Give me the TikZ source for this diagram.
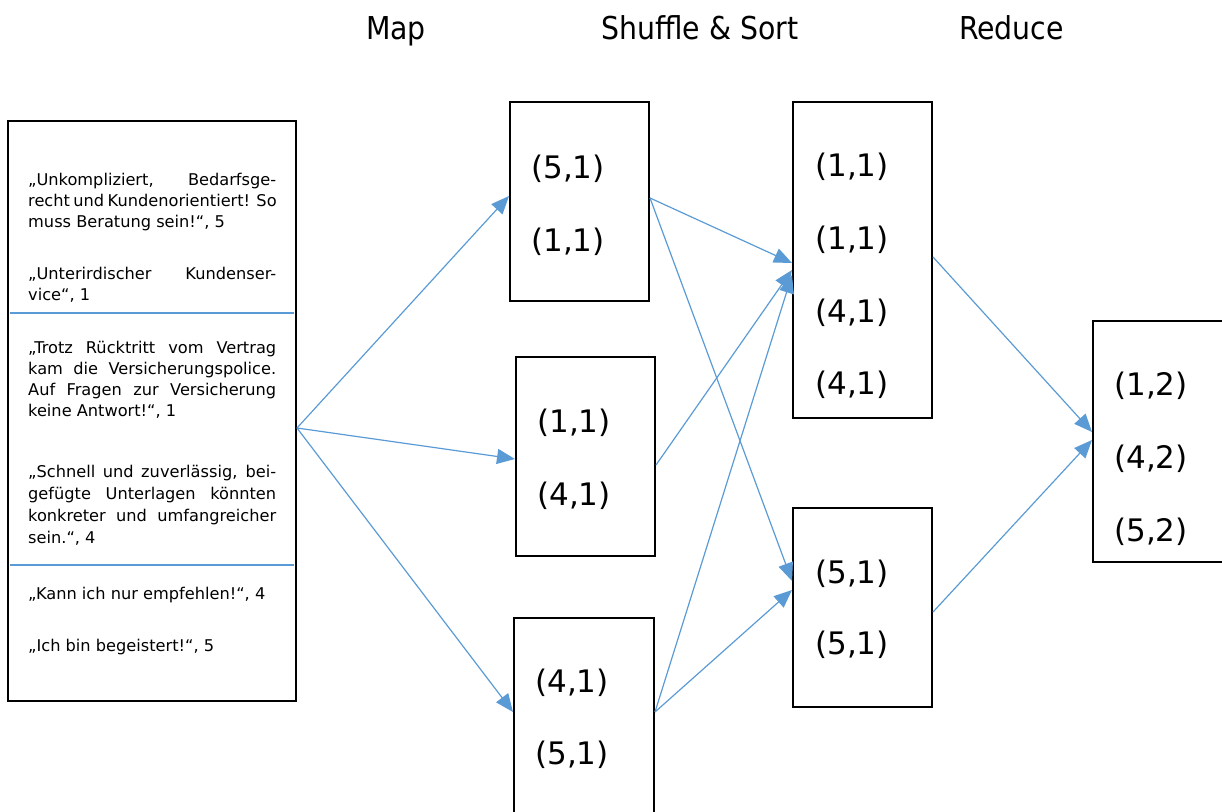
\documentclass[tikz,border=0pt]{standalone}
\usepackage{fontspec}
\setmainfont{DejaVu Sans}
\newfontfamily\narrowfont{DejaVu Sans}[FakeStretch=0.9]
\usetikzlibrary{arrows.meta,calc}
\definecolor{flowblue}{RGB}{91,155,213}
% one justified line of the review column
\newcommand{\jl}[1]{\hbox to 248pt{#1}}
\begin{document}
\begin{tikzpicture}[x=1pt,y=-1pt,
  cell/.style={draw=black,line width=2pt,minimum width=139pt,inner sep=0pt},
  hdr/.style={font=\narrowfont\fontsize{31.5}{35}\selectfont,anchor=base,inner sep=0pt},
  pair/.style={font=\fontsize{31}{35}\selectfont,anchor=base west,inner sep=0pt},
  txt/.style={font=\fontsize{16.2}{19}\selectfont,anchor=base west,inner sep=0pt},
  sep/.style={draw=flowblue,line width=1.3pt},
  flow/.style={draw=flowblue,line width=1.2pt,-{Triangle[length=18pt,width=15pt]}}]

\path[use as bounding box] (0,0) rectangle (1222,811);
\clip (0,0) rectangle (1222,811);

% phase titles
\node[hdr] (hmap) at (396,39.5) {Map};
\node[hdr] (hshuf) at (700,39.5) {Shuffle \& Sort};
\node[hdr] (hred) at (1011.5,39.5) {Reduce};

% input: customer reviews
\node[cell,minimum width=288pt,minimum height=580pt] (lb) at (152,411) {};
\coordinate (sa) at (10,313);
\coordinate (sb) at (294,313);
\coordinate (sc) at (10,565);
\coordinate (sd) at (294,565);
\draw[sep] (sa) -- (sb);
\draw[sep] (sc) -- (sd);

\node[txt] (t1)  at (28,185) {\jl{„Unkompliziert, Bedarfsge-}};
\node[txt] (t2)  at (28,206) {\jl{recht und Kundenorientiert! So}};
\node[txt] (t3)  at (28,227) {muss Beratung sein!“, 5};
\node[txt] (t4)  at (28,279) {\jl{„Unterirdischer Kundenser-}};
\node[txt] (t5)  at (28,300) {vice“, 1};
\node[txt] (t6)  at (28,353) {\jl{„Trotz Rücktritt vom Vertrag}};
\node[txt] (t7)  at (28,374) {\jl{kam die Versicherungspolice.}};
\node[txt] (t8)  at (28,395) {\jl{Auf Fragen zur Versicherung}};
\node[txt] (t9)  at (28,416) {keine Antwort!“, 1};
\node[txt] (t10) at (28,477) {\jl{„Schnell und zuverlässig, bei-}};
\node[txt] (t11) at (28,499) {\jl{gefügte Unterlagen könnten}};
\node[txt] (t12) at (28,521) {\jl{konkreter und umfangreicher}};
\node[txt] (t13) at (28,543) {sein.“, 4};
\node[txt] (t14) at (28,599) {„Kann ich nur empfehlen!“, 4};
\node[txt] (t15) at (28,651) {„Ich bin begeistert!“, 5};

% map outputs
\node[cell,minimum height=199pt] (m1) at (579.5,201.5) {};
\node[cell,minimum height=199pt] (m2) at (585.5,456.5) {};
\node[cell,minimum width=140pt,minimum height=199pt] (m3) at (584,717.5) {};
\node[pair] (m1a) at (531,178) {(5,1)};
\node[pair] (m1b) at (531,251) {(1,1)};
\node[pair] (m2a) at (537,432) {(1,1)};
\node[pair] (m2b) at (537,505) {(4,1)};
\node[pair] (m3a) at (535,692) {(4,1)};
\node[pair] (m3b) at (535,764) {(5,1)};

% shuffled and sorted groups
\node[cell,minimum height=316pt] (s1) at (862.5,260) {};
\node[cell,minimum height=199pt] (s2) at (862.5,607.5) {};
\node[pair] (s1a) at (815,176) {(1,1)};
\node[pair] (s1b) at (815,249) {(1,1)};
\node[pair] (s1c) at (815,322) {(4,1)};
\node[pair] (s1d) at (815,394) {(4,1)};
\node[pair] (s2a) at (815,583) {(5,1)};
\node[pair] (s2b) at (815,654) {(5,1)};

% reduced result
\node[cell,minimum height=241pt] (r) at (1162.5,441.5) {};
\node[pair] (ra) at (1114,395) {(1,2)};
\node[pair] (rb) at (1114,468) {(4,2)};
\node[pair] (rc) at (1114,541) {(5,2)};

% data flow
\coordinate (fan) at ($(lb.east)+(0,17)$);
\draw[flow] (fan) -- ($(m1.west)+(0,-5.5)$);
\draw[flow] (fan) -- ($(m2.west)+(0,2.5)$);
\draw[flow] (fan) -- ($(m3.west)+(0,-5.5)$);

\draw[flow] ($(m1.east)+(0,-3.5)$) -- ($(s1.west)+(0,3)$);
\draw[flow] ($(m1.east)+(0,-3.5)$) -- ($(s2.west)+(0,-26.5)$);
\draw[flow] ($(m2.east)+(0,8.5)$) -- ($(s1.west)+(0,10)$);
\draw[flow] ($(m3.east)+(0,-5.5)$) -- ($(s1.west)+(0,15)$);
\draw[flow] ($(m3.east)+(0,-5.5)$) -- ($(s2.west)+(0,-17.5)$);

\draw[flow] ($(s1.east)+(0,-3)$) -- ($(r.west)+(0,-9.5)$);
\draw[flow] ($(s2.east)+(0,4.5)$) -- ($(r.west)+(0,-1.5)$);
\end{tikzpicture}
\end{document}
